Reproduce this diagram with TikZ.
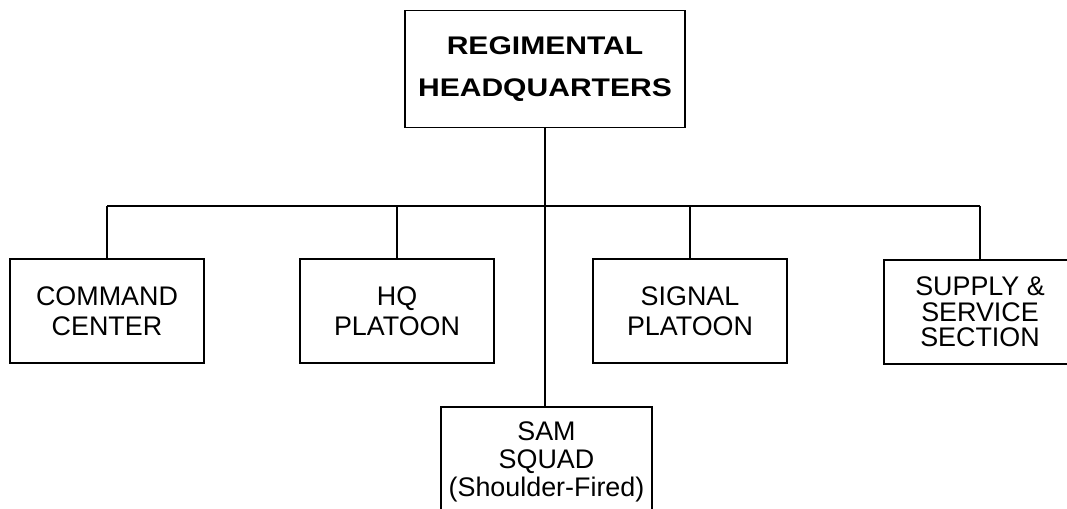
\documentclass[tikz,border=0pt]{standalone}
\usepackage{fontspec}
\setmainfont{Liberation Sans}
\newfontfamily\headfont[FakeStretch=1.18]{Liberation Sans}
\usepackage{tikz}

\begin{document}
\begin{tikzpicture}[x=0.02cm,y=-0.02cm,
			every node/.style={rectangle,draw,line width=1.1pt,align=center,inner sep=0pt,
				font=\fontsize{15.3}{16.8}\selectfont},
			unit/.style={minimum width=3.88cm,minimum height=2.08cm},
			line width=1.1pt]
			
			\clip (0,0) rectangle (1067,509);
			
			% Regiment headquarters at the top
			\node[minimum width=5.6cm,minimum height=2.34cm,
				font=\headfont\bfseries\fontsize{14.5}{24}\selectfont] (hq) at (545,69)
				{REGIMENTAL\\HEADQUARTERS};
			
			% Units hanging from the bus
			\foreach \n/\x/\lbl in {cmd/107/{COMMAND\\CENTER},hqp/397/{HQ\\PLATOON},
				sig/690/{SIGNAL\\PLATOON}}{
				\node[unit] (\n) at (\x,311) {\lbl};
			}
			\node[unit,minimum width=3.84cm,font=\fontsize{15.3}{14.6}\selectfont] (sup) at (980,312)
				{SUPPLY \&\\SERVICE\\SECTION};
			
			% SAM squad below the main line
			\node[minimum width=4.22cm,minimum height=2.2cm,
				font=\fontsize{15.3}{15.8}\selectfont] (sam) at (546.5,462)
				{SAM\\SQUAD\\(Shoulder-Fired)};
			
			\coordinate (bus) at (0,206);
			
			% Main line down to the SAM squad
			\draw (hq.south) -- (hq.south |- sam.north);
			
			% Bus and drops
			\draw (cmd.north |- bus) -- (sup.north |- bus);
			\foreach \n in {cmd,hqp,sig,sup}{
				\draw (\n.north |- bus) -- (\n.north);
			}
			
		\end{tikzpicture}
\end{document}
